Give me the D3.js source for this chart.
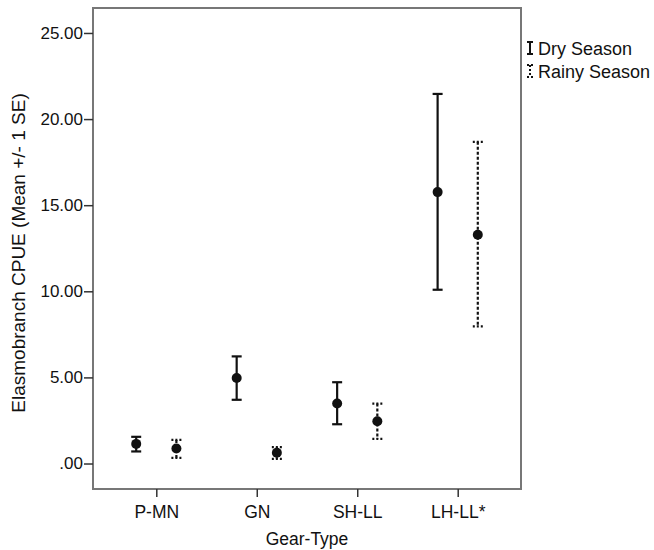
<!DOCTYPE html>
<html>
<head>
<meta charset="utf-8">
<script src="https://cdn.jsdelivr.net/npm/d3@7"></script>
<style>
  body { margin: 0; background: #fff; }
  text { font-family: "Liberation Sans", Arial, sans-serif; fill: #111; }
</style>
</head>
<body>
<div id="chart"></div>
<script>
// Data
var gears = ['P-MN', 'GN', 'SH-LL', 'LH-LL*'];
var seasons = ['Dry Season', 'Rainy Season'];
var dryMean = [1.14, 4.97, 3.48, 15.76];
var dryLow = [0.70, 3.70, 2.28, 10.09];
var dryHigh = [1.55, 6.22, 4.72, 21.46];
var rainyMean = [0.87, 0.62, 2.45, 13.28];
var rainyLow = [0.33, 0.27, 1.43, 7.96];
var rainyHigh = [1.37, 0.95, 3.48, 18.68];
var yTicks = [0, 5, 10, 15, 20, 25];

var svgWidth = 654;
var svgHeight = 550;

// plot frame (note: "top" is reserved on window, so use plot* names)
var plotLeft = 93, plotRight = 521, plotTop = 8, plotBottom = 489;

var svg = d3.select('#chart')
    .append('svg')
    .attr('width', svgWidth)
    .attr('height', svgHeight);

var x = d3.scalePoint()
    .domain(gears)
    .range([plotLeft, plotRight])
    .padding(0.63);

var y = d3.scaleLinear()
    .domain([-1.48, 26.45])
    .range([plotBottom, plotTop]);

var offset = x.step() * 0.2;

// frame
svg.append('rect')
    .attr('x', plotLeft)
    .attr('y', plotTop)
    .attr('width', plotRight - plotLeft)
    .attr('height', plotBottom - plotTop)
    .attr('fill', 'none')
    .attr('stroke', '#777')
    .attr('stroke-width', 2);

// y axis
var yAxis = d3.axisLeft(y)
    .tickValues(yTicks)
    .tickSize(9)
    .tickPadding(1)
    .tickFormat(d => d3.format('.2f')(d).replace(/^0/, ''));

var yg = svg.append('g')
    .attr('transform', `translate(${plotLeft},0)`)
    .call(yAxis);
yg.select('.domain').remove();
yg.selectAll('line').attr('stroke', '#333').attr('stroke-width', 1.5);
yg.selectAll('text').style('font-size', '17px').attr('fill', '#111');

// x axis
var xAxis = d3.axisBottom(x)
    .tickSize(8)
    .tickPadding(8.5);

var xg = svg.append('g')
    .attr('transform', `translate(0,${plotBottom})`)
    .call(xAxis);
xg.select('.domain').remove();
xg.selectAll('line').attr('stroke', '#333').attr('stroke-width', 1.5);
xg.selectAll('text').style('font-size', '17.5px').attr('fill', '#111');

// axis titles
svg.append('text')
    .attr('transform', 'translate(25,253) rotate(-90)')
    .attr('text-anchor', 'middle')
    .style('font-size', '19px')
    .text('Elasmobranch CPUE (Mean +/- 1 SE)');

svg.append('text')
    .attr('x', (plotLeft + plotRight) / 2)
    .attr('y', 545)
    .attr('text-anchor', 'middle')
    .style('font-size', '17.5px')
    .text('Gear-Type');

// error bars
var series = [
    {name: seasons[0], mean: dryMean, low: dryLow, high: dryHigh, dx: -offset, dash: null},
    {name: seasons[1], mean: rainyMean, low: rainyLow, high: rainyHigh, dx: offset, dash: '3,2'}
];

var capW = 5;

series.forEach(function(s) {
    var g = svg.append('g');
    gears.forEach(function(gear, i) {
        var cx = x(gear) + s.dx;
        g.append('line')
            .attr('x1', cx).attr('x2', cx)
            .attr('y1', y(s.high[i])).attr('y2', y(s.low[i]))
            .attr('stroke', '#111').attr('stroke-width', 2.2)
            .attr('stroke-dasharray', s.dash);
        [s.high[i], s.low[i]].forEach(function(v) {
            g.append('line')
                .attr('x1', cx - capW).attr('x2', cx + capW)
                .attr('y1', y(v)).attr('y2', y(v))
                .attr('stroke', '#111').attr('stroke-width', 2.2)
                .attr('stroke-dasharray', s.dash ? '2,2' : null);
        });
        g.append('circle')
            .attr('cx', cx)
            .attr('cy', y(s.mean[i]))
            .attr('r', 5)
            .attr('fill', '#111');
    });
});

// legend
var legend = svg.append('g');
series.forEach(function(s, i) {
    var ly = 48 + i * 23;
    var lx = 530;
    legend.append('line')
        .attr('x1', lx).attr('x2', lx)
        .attr('y1', ly - 6).attr('y2', ly + 6)
        .attr('stroke', '#111').attr('stroke-width', 2)
        .attr('stroke-dasharray', s.dash ? '2,2' : null);
    [ly - 6, ly + 6].forEach(function(cy) {
        legend.append('line')
            .attr('x1', lx - 3).attr('x2', lx + 3)
            .attr('y1', cy).attr('y2', cy)
            .attr('stroke', '#111').attr('stroke-width', 2)
            .attr('stroke-dasharray', s.dash ? '2,2' : null);
    });
    legend.append('text')
        .attr('x', lx + 8)
        .attr('y', ly + 7)
        .style('font-size', '18px')
        .text(s.name);
});
</script>
</body>
</html>
